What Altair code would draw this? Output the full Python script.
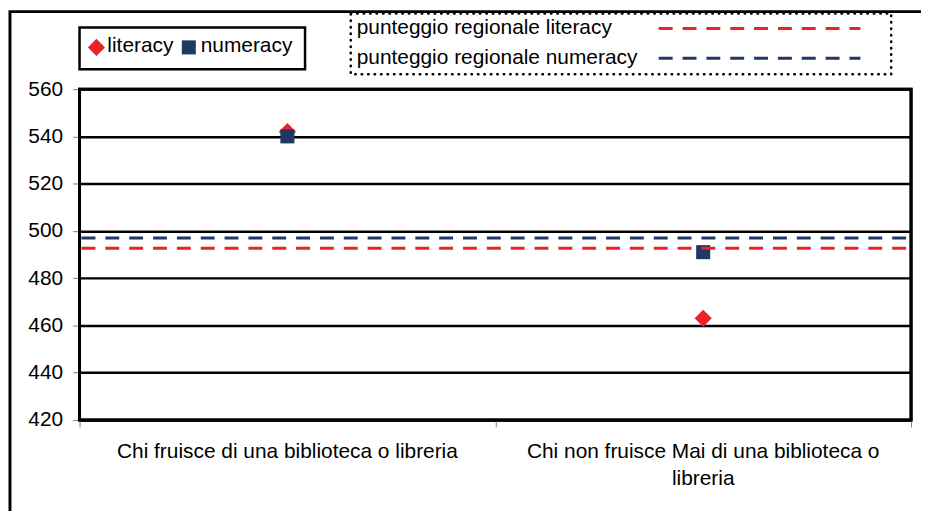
import altair as alt
import pandas as pd

# ---- data ----
categories = ["Chi fruisce di una biblioteca o libreria",
              "Chi non fruisce Mai di una biblioteca o libreria"]
category_lines = [["Chi fruisce di una biblioteca o libreria"],
                  ["Chi non fruisce Mai di una biblioteca o", "libreria"]]
series = ["literacy", "numeracy"]
literacy = [542, 463]
numeracy = [540, 491]
regional_labels = ["punteggio regionale literacy", "punteggio regionale numeracy"]
regional_values = [492.7, 497.0]
y_ticks = [420, 440, 460, 480, 500, 520, 540, 560]

# ---- styling ----
colors = ["#EC2227", "#1F3864"]
shapes = ["diamond", "square"]
sizes = [300, 200]
FONT = "Liberation Sans"
FS = 21
W, H = 837, 333

color_scale = alt.Scale(domain=series, range=colors)

rows = []
for s, vals in zip(series, [literacy, numeracy]):
    for i, v in enumerate(vals):
        rows.append({"series": s, "pos": i + 0.5, "value": v})
points_df = pd.DataFrame(rows)

reg_df = pd.DataFrame({"series": series, "label": regional_labels, "value": regional_values})
cat_df = pd.DataFrame({"pos": [i + 0.5 for i in range(len(categories))],
                       "category": categories,
                       "text": ["\n".join(l) for l in category_lines]})
one = pd.DataFrame({"a": [0]})

x_enc = alt.X("pos:Q",
              scale=alt.Scale(domain=[0, len(categories)], nice=False, zero=False),
              axis=alt.Axis(values=list(range(len(categories) + 1)), labels=False, title=None,
                            grid=False, domain=False, tickColor="#808080", tickSize=7, tickWidth=1))
y_enc = alt.Y("value:Q",
              scale=alt.Scale(domain=[420, 560], nice=False, zero=False),
              axis=alt.Axis(values=y_ticks, title=None, grid=True, gridColor="black", gridWidth=2.5,
                            domain=False, tickColor="#808080", tickSize=7, tickWidth=1,
                            labelFont=FONT, labelFontSize=FS, labelColor="black", labelPadding=10))

# outer chart frame (left/top visible; right/bottom fall outside the window)
frame = alt.Chart(one).mark_rect(filled=False, stroke="black", strokeWidth=3).encode(
    x=alt.value(-70), x2=alt.value(W + 60), y=alt.value(-78), y2=alt.value(H + 200))

# plot-area border
border = alt.Chart(one).mark_rect(filled=False, stroke="black", strokeWidth=3).encode(
    x=alt.value(0), x2=alt.value(W), y=alt.value(0), y2=alt.value(H))

points = alt.Chart(points_df).mark_point(filled=True, opacity=1).encode(
    x=x_enc, y=y_enc,
    color=alt.Color("series:N", scale=color_scale, legend=None),
    shape=alt.Shape("series:N", scale=alt.Scale(domain=series, range=shapes), legend=None),
    size=alt.Size("series:N", scale=alt.Scale(domain=series, range=sizes), legend=None),
    order=alt.Order("series:N"),
)

rules = alt.Chart(reg_df).mark_rule(strokeDash=[14, 10], strokeDashOffset=19, strokeWidth=3).encode(
    y=alt.Y("value:Q"),
    color=alt.Color("series:N", scale=color_scale, legend=None),
)

xlabels = alt.Chart(cat_df).mark_text(font=FONT, fontSize=FS, baseline="top", align="center",
                                       lineBreak="\n", lineHeight=27, color="black").encode(
    x=alt.X("pos:Q"), y=alt.value(H + 21), text="text:N")

# legend 1 (series markers)
leg1_box = alt.Chart(one).mark_rect(fill="white", stroke="black", strokeWidth=2.5).encode(
    x=alt.value(0), x2=alt.value(227), y=alt.value(-62), y2=alt.value(-20))
leg1_layers = [leg1_box]
sym_x = [17, 110]
txt_x = [28, 122]
for i, s in enumerate(series):
    d = pd.DataFrame({"series": [s]})
    leg1_layers.append(alt.Chart(d).mark_point(filled=True, opacity=1, shape=shapes[i], size=sizes[i]).encode(
        x=alt.value(sym_x[i]), y=alt.value(-42),
        color=alt.Color("series:N", scale=color_scale, legend=None)))
    leg1_layers.append(alt.Chart(d).mark_text(font=FONT, fontSize=FS, align="left", baseline="middle",
                                              color="black").encode(
        x=alt.value(txt_x[i]), y=alt.value(-43), text="series:N"))

# legend 2 (regional scores)
leg2_box = alt.Chart(one).mark_rect(fill="white", stroke="black", strokeWidth=2.5,
                                    strokeDash=[0.5, 6], strokeCap="round").encode(
    x=alt.value(273), x2=alt.value(817), y=alt.value(-76), y2=alt.value(-15))
leg2_layers = [leg2_box]
row_y = [-61, -31]
for i, s in enumerate(series):
    d = pd.DataFrame({"series": [s], "label": [regional_labels[i]]})
    leg2_layers.append(alt.Chart(d).mark_text(font=FONT, fontSize=FS, align="left", baseline="middle",
                                              color="black").encode(
        x=alt.value(279), y=alt.value(row_y[i]), text="label:N"))
    leg2_layers.append(alt.Chart(d).mark_rule(strokeDash=[14, 10], strokeWidth=3).encode(
        x=alt.value(583), x2=alt.value(786), y=alt.value(row_y[i]),
        color=alt.Color("series:N", scale=color_scale, legend=None)))

chart = alt.layer(frame, points, rules, border, xlabels, *leg1_layers, *leg2_layers).properties(
    width=W, height=H, autosize="none", background="white",
    padding={"left": 72, "top": 80, "right": 10, "bottom": 90},
).configure_view(stroke="black", strokeWidth=3)

chart.save("out.html", embed_options={"renderer": "svg", "actions": False})
